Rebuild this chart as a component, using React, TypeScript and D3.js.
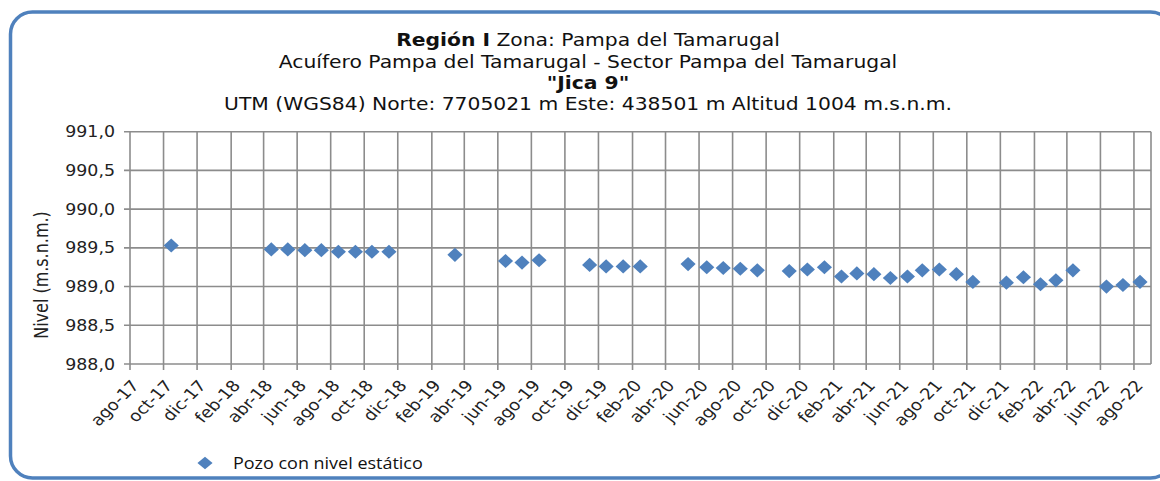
import React from 'react'
import * as d3 from 'd3'

// fechas de medición y nivel estático (m.s.n.m.)
const fechas = [
  '2017-10-15',
  '2018-04-15', '2018-05-15', '2018-06-15', '2018-07-15', '2018-08-15', '2018-09-15', '2018-10-15', '2018-11-15',
  '2019-03-15',
  '2019-06-15', '2019-07-15', '2019-08-15',
  '2019-11-15', '2019-12-15', '2020-01-15', '2020-02-15',
  '2020-05-12', '2020-06-15', '2020-07-15', '2020-08-15', '2020-09-15',
  '2020-11-12', '2020-12-15', '2021-01-15', '2021-02-15', '2021-03-15', '2021-04-15', '2021-05-15', '2021-06-15',
  '2021-07-12', '2021-08-12', '2021-09-12', '2021-10-12',
  '2021-12-12', '2022-01-12', '2022-02-12', '2022-03-12', '2022-04-12',
  '2022-06-12', '2022-07-12', '2022-08-12',
]
const niveles = [
  989.53,
  989.48, 989.48, 989.47, 989.47, 989.45, 989.45, 989.45, 989.45,
  989.41,
  989.33, 989.31, 989.34,
  989.28, 989.26, 989.26, 989.26,
  989.29, 989.25, 989.24, 989.23, 989.21,
  989.20, 989.22, 989.25, 989.13, 989.17, 989.16, 989.11, 989.13,
  989.21, 989.22, 989.16, 989.06,
  989.05, 989.12, 989.03, 989.08, 989.21,
  989.00, 989.02, 989.06,
]
const mesesAbr = ['ene', 'feb', 'mar', 'abr', 'may', 'jun', 'jul', 'ago', 'sep', 'oct', 'nov', 'dic']
const yTicks = [988, 988.5, 989, 989.5, 990, 990.5, 991]
const tituloRegion = 'Región I'
const tituloZona = ' Zona: Pampa del Tamarugal'
const tituloAcuifero = 'Acuífero Pampa del Tamarugal - Sector Pampa del Tamarugal'
const tituloPozo = '"Jica 9"'
const tituloUtm = 'UTM (WGS84) Norte: 7705021 m Este: 438501 m Altitud 1004 m.s.n.m.'
const serieNombre = 'Pozo con nivel estático'

const W = 1160
const H = 481
const SX = 1.16 // la imagen original viene estirada a lo ancho
const AZUL = '#4f81bd'
const GRIS = '#8c8c8c'
const FUENTE = '"DejaVu Sans", Verdana, sans-serif'

export default function App() {
  const left = 130, right = 1151, top = 131.7, bottom = 364

  const parse = d3.timeParse('%Y-%m-%d')
  const datos = fechas.map((f, i) => ({ fecha: parse(f) as Date, nivel: niveles[i] }))

  const x = d3.scaleTime()
    .domain([new Date(2017, 7, 1), new Date(2022, 8, 1)])
    .range([left, right])
  const y = d3.scaleLinear().domain([988, 991]).range([bottom, top])

  const xTicks = d3.timeMonth.range(new Date(2017, 7, 1), new Date(2022, 7, 2), 2)
  const etiqueta = (d: Date) => mesesAbr[d.getMonth()] + '-' + d3.timeFormat('%y')(d)

  const diamante = d3.symbol().type(d3.symbolSquare).size(100)()
  const diamanteLeyenda = d3.symbol().type(d3.symbolSquare).size(80)()

  const cx = 588

  return (
    <div style={{ position: 'absolute', left: 0, top: 0 }}>
      <svg width={W} height={H} style={{ display: 'block', background: '#fff' }}>
        {/* marco redondeado */}
        <rect x={10.5} y={12} width={1162} height={466} rx={22} ry={22}
          fill="#fff" stroke={AZUL} strokeWidth={3.5} />

        {/* títulos */}
        <g fontFamily={FUENTE} fontSize={17.5} fill="#111" textAnchor="middle">
          <text transform={`translate(${cx},46) scale(${SX},1)`}>
            <tspan fontWeight="bold">{tituloRegion}</tspan>
            <tspan>{tituloZona}</tspan>
          </text>
          <text transform={`translate(${cx},67.5) scale(${SX},1)`}>{tituloAcuifero}</text>
          <text transform={`translate(${cx},88.5) scale(${SX},1)`} fontWeight="bold">{tituloPozo}</text>
          <text transform={`translate(${cx},109.5) scale(${SX},1)`}>{tituloUtm}</text>
        </g>

        {/* cuadrícula */}
        <g stroke={GRIS} strokeWidth={1.6} fill="none">
          {yTicks.map(t => (
            <line key={'h' + t} x1={left - 6} x2={right} y1={y(t)} y2={y(t)} />
          ))}
          {xTicks.map((t, i) => (
            <line key={'v' + i} x1={x(t)} x2={x(t)} y1={top} y2={bottom + 6} />
          ))}
          <line x1={right} x2={right} y1={top} y2={bottom} />
        </g>

        {/* eje Y */}
        <g fontFamily={FUENTE} fontSize={15} fill="#222" textAnchor="end">
          {yTicks.map(t => (
            <text key={'yt' + t} transform={`translate(115,${y(t) + 5.5}) scale(${SX},1)`}>
              {d3.format('.1f')(t).replace('.', ',')}
            </text>
          ))}
        </g>
        <text transform={`translate(47.5,275) scale(${SX},1) rotate(-90)`}
          fontFamily={FUENTE} fontSize={16} fill="#222" textAnchor="middle">
          Nivel (m.s.n.m.)
        </text>

        {/* eje X */}
        <g fontFamily={FUENTE} fontSize={15.5} fill="#222" textAnchor="end">
          {xTicks.map((t, i) => (
            <text key={'xt' + i} transform={`translate(${x(t) + 10},386) scale(${SX},1) rotate(-49)`}>
              {etiqueta(t)}
            </text>
          ))}
        </g>

        {/* puntos */}
        <g fill={AZUL}>
          {datos.map((d, i) => (
            <path key={i} d={diamante as string}
              transform={`translate(${x(d.fecha)},${y(d.nivel)}) scale(1.07,1) rotate(45)`} />
          ))}
        </g>

        {/* leyenda */}
        <path d={diamanteLeyenda as string} fill={AZUL}
          transform={`translate(205,463) scale(1.2,1) rotate(45)`} />
        <text transform={`translate(233,469) scale(${SX},1)`}
          fontFamily='"Open Sans", sans-serif' fontSize={15.5} fill="#111">
          {serieNombre}
        </text>
      </svg>
    </div>
  )
}
